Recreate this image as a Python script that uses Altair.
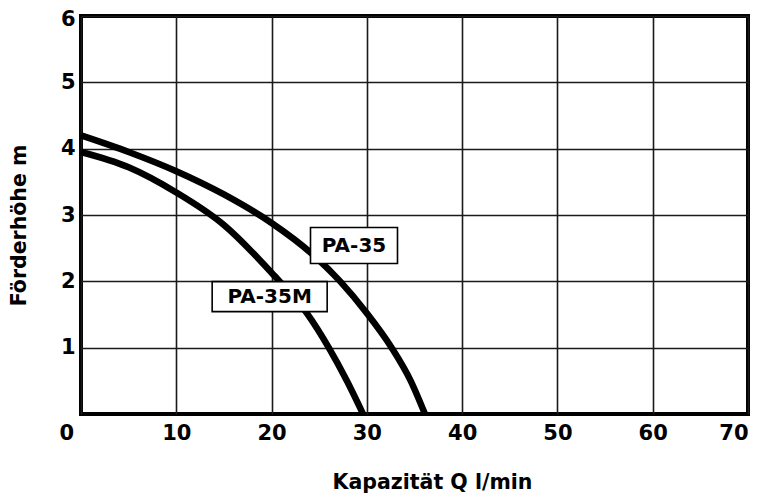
import altair as alt
import pandas as pd

# Pump curves
q_pa35 = [0, 5, 10, 15, 20, 24.2, 27.2, 30, 32.6, 34.6, 36.1]
h_pa35 = [4.2, 3.95, 3.66, 3.31, 2.88, 2.42, 2.0, 1.52, 1.0, 0.5, 0.0]
q_pa35m = [0, 5, 10, 15, 20, 23.7, 26.0, 27.9, 29.6]
h_pa35m = [3.95, 3.72, 3.34, 2.85, 2.13, 1.52, 1.0, 0.5, 0.0]

label_names = ["PA-35", "PA-35M"]
label_q = [28.65, 19.8]
label_h = [2.54, 1.77]

x_ticks = [0, 10, 20, 30, 40, 50, 60, 70]
y_ticks = [1, 2, 3, 4, 5, 6]

curves = pd.concat([
    pd.DataFrame({"q": q_pa35, "h": h_pa35, "series": "PA-35"}),
    pd.DataFrame({"q": q_pa35m, "h": h_pa35m, "series": "PA-35M"}),
])
labels = pd.DataFrame({"name": label_names, "q": label_q, "h": label_h})

FONT = "DejaVu Sans"

x_enc = alt.X(
    "q:Q",
    scale=alt.Scale(domain=[0, 70], nice=False, zero=False),
    axis=alt.Axis(
        values=x_ticks,
        format="d",
        title="Kapazität Q l/min",
        labelOffset={"condition": {"test": "datum.value === 0", "value": -22}, "value": 0},
        labelPadding=8,
        titleX=351,
        titleY=74,
        titleAnchor="start",
        titleAlign="center",
        titleBaseline="alphabetic",
    ),
)
y_enc = alt.Y(
    "h:Q",
    scale=alt.Scale(domain=[0, 6], nice=False, zero=False),
    axis=alt.Axis(
        values=y_ticks,
        format="d",
        title="Förderhöhe m",
        labelPadding=6,
        labelOffset={"condition": {"test": "datum.value === 6", "value": 3}, "value": 0},
        titleX=-62,
        titleY=209,
        titleAngle=-90,
        titleAlign="center",
        titleBaseline="middle",
    ),
)

lines = alt.Chart(curves).mark_line(
    color="black", strokeWidth=6.5, interpolate="monotone", strokeCap="butt"
).encode(x=x_enc, y=y_enc, detail="series:N")


def box(name, path, side):
    return alt.Chart(labels).transform_filter(alt.datum.name == name).mark_point(
        shape=path, size=side * side, filled=True, fill="white",
        stroke="black", strokeWidth=1.6, opacity=1
    ).encode(x="q:Q", y="h:Q")


box1 = box("PA-35", "M-1,-0.414L1,-0.414L1,0.414L-1,0.414Z", 87)
box2 = box("PA-35M", "M-1,-0.261L1,-0.261L1,0.261L-1,0.261Z", 115)

texts = alt.Chart(labels).mark_text(
    font=FONT, fontWeight="bold", fontSize=20, color="black",
    align="center", baseline="middle"
).encode(x="q:Q", y="h:Q", text="name:N")

chart = alt.layer(lines, box1, box2, texts).properties(
    width=667,
    height=398,
    autosize=alt.AutoSizeParams(type="none"),
    padding={"left": 73, "top": 8, "right": 9, "bottom": 79},
    background="white",
).configure_view(
    stroke="black", strokeWidth=4
).configure_axis(
    domain=False,
    ticks=False,
    grid=True,
    gridColor="#1a1a1a",
    gridWidth=1.6,
    gridOpacity=1,
    labelFont=FONT,
    labelFontWeight="bold",
    labelFontSize=21,
    labelColor="black",
    titleFont=FONT,
    titleFontWeight="bold",
    titleFontSize=20.5,
    titleColor="black",
)

chart.save("out.html", embed_options={"renderer": "svg", "actions": False})
